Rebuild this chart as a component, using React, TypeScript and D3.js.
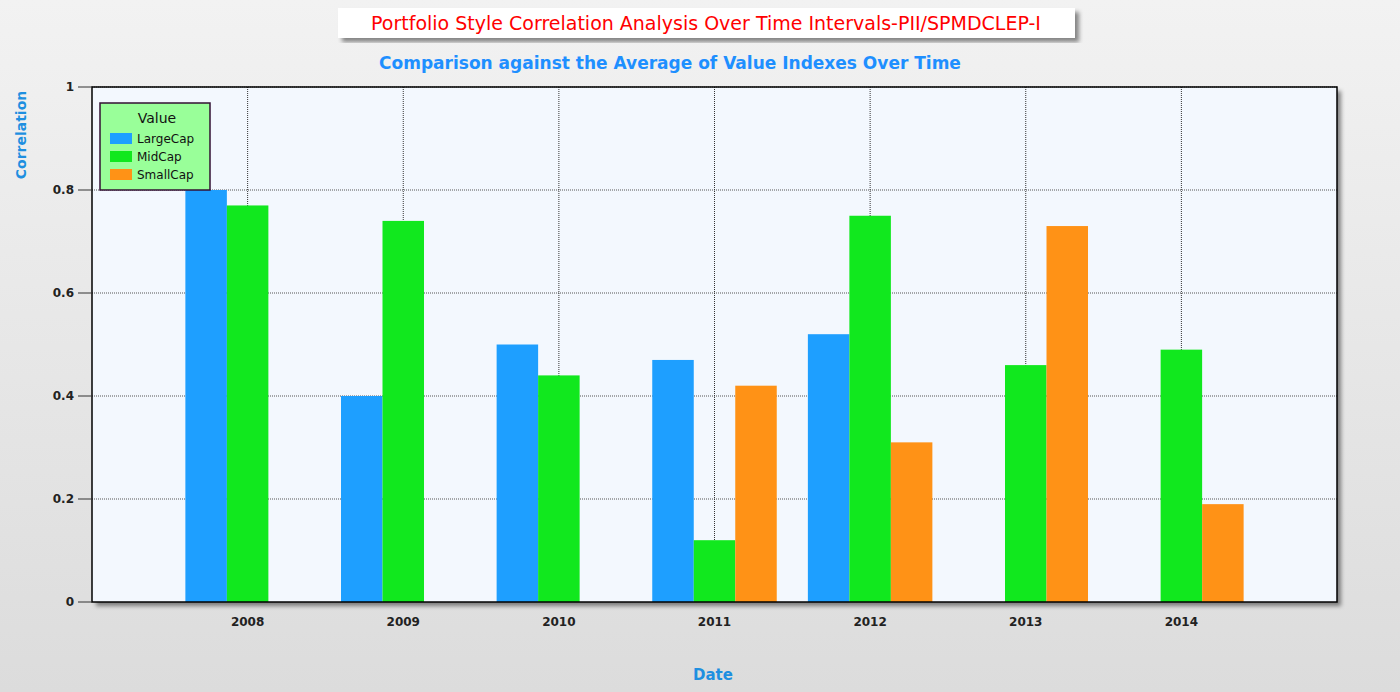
import { useRef, useEffect } from 'react';
import * as d3 from 'd3';

const years = ['2008', '2009', '2010', '2011', '2012', '2013', '2014'];
const seriesNames = ['LargeCap', 'MidCap', 'SmallCap'];
const seriesColors = ['#1e9fff', '#11e81e', '#ff9216'];
const largeCap = [0.8, 0.4, 0.5, 0.47, 0.52, 0, 0];
const midCap = [0.77, 0.74, 0.44, 0.12, 0.75, 0.46, 0.49];
const smallCap = [0, 0, 0, 0.42, 0.31, 0.73, 0.19];
const yTicks = [0, 0.2, 0.4, 0.6, 0.8, 1];

const W = 1400;
const H = 692;
const margin = { top: 87, right: 63, bottom: 90, left: 92 };
const font = '"DejaVu Sans", Verdana, sans-serif';

export default function App() {
  const svgRef = useRef<SVGSVGElement>(null);

  useEffect(() => {
    if (!svgRef.current) return;
    const svg = d3.select(svgRef.current);
    svg.selectAll('*').remove();

    const innerW = W - margin.left - margin.right;
    const innerH = H - margin.top - margin.bottom;

    const defs = svg.append('defs');
    const bg = defs.append('linearGradient').attr('id', 'bg').attr('x1', 0).attr('y1', 0).attr('x2', 0).attr('y2', 1);
    bg.append('stop').attr('offset', '0%').attr('stop-color', '#f2f2f2');
    bg.append('stop').attr('offset', '100%').attr('stop-color', '#dcdcdc');
    const sh = defs.append('filter').attr('id', 'shadow').attr('x', '-5%').attr('y', '-5%').attr('width', '110%').attr('height', '120%');
    sh.append('feDropShadow').attr('dx', 4).attr('dy', 4).attr('stdDeviation', 2).attr('flood-color', '#000').attr('flood-opacity', 0.45);

    svg.append('rect').attr('width', W).attr('height', H).attr('fill', 'url(#bg)');

    // Title
    svg.append('rect').attr('x', 338).attr('y', 8).attr('width', 737).attr('height', 30)
      .attr('fill', '#fff').attr('filter', 'url(#shadow)');
    svg.append('text').attr('x', 706).attr('y', 30).attr('text-anchor', 'middle')
      .attr('font-family', font).attr('font-size', 19).attr('fill', '#ff0000')
      .text('Portfolio Style Correlation Analysis Over Time Intervals-PII/SPMDCLEP-I');
    svg.append('text').attr('x', 670).attr('y', 69).attr('text-anchor', 'middle')
      .attr('font-family', font).attr('font-size', 17).attr('font-weight', 'bold').attr('fill', '#1e8fff')
      .text('Comparison against the Average of Value Indexes Over Time');

    const x = d3.scalePoint<string>().domain(years).range([0, innerW]).padding(1);
    const y = d3.scaleLinear().domain([0, 1]).range([innerH, 0]);
    const bw = 41.5;

    const g = svg.append('g').attr('transform', `translate(${margin.left},${margin.top})`);
    g.append('rect').attr('width', innerW).attr('height', innerH).attr('fill', '#f3f8fe')
      .attr('filter', 'url(#shadow)');

    // grid
    g.selectAll('.hg').data(yTicks.slice(1)).join('line')
      .attr('x1', 0).attr('x2', innerW).attr('y1', (d) => y(d)).attr('y2', (d) => y(d))
      .attr('stroke', '#555').attr('stroke-dasharray', '1,1');
    g.selectAll('.vg').data(years).join('line')
      .attr('x1', (d) => x(d)!).attr('x2', (d) => x(d)!).attr('y1', 0).attr('y2', innerH)
      .attr('stroke', '#333').attr('stroke-dasharray', '1,1');

    const series = [largeCap, midCap, smallCap];
    series.forEach((vals, si) => {
      g.selectAll(`.b${si}`).data(vals).join('rect')
        .attr('x', (_, i) => x(years[i])! + (si - 1.5) * bw)
        .attr('width', bw)
        .attr('y', (d) => y(d))
        .attr('height', (d) => innerH - y(d))
        .attr('fill', seriesColors[si]);
    });

    g.append('rect').attr('width', innerW).attr('height', innerH).attr('fill', 'none')
      .attr('stroke', '#000').attr('stroke-width', 1.5);

    // y axis
    g.selectAll('.yt').data(yTicks).join('line')
      .attr('x1', -14).attr('x2', 0).attr('y1', (d) => y(d)).attr('y2', (d) => y(d)).attr('stroke', '#333');
    g.selectAll('.yl').data(yTicks).join('text')
      .attr('x', -18).attr('y', (d) => y(d) + 4).attr('text-anchor', 'end')
      .attr('font-family', font).attr('font-size', 12).attr('font-weight', 'bold').attr('fill', '#222')
      .text((d) => (d === 0 || d === 1 ? String(d) : d.toFixed(1)));
    g.selectAll('.xl').data(years).join('text')
      .attr('x', (d) => x(d)!).attr('y', innerH + 24).attr('text-anchor', 'middle')
      .attr('font-family', font).attr('font-size', 12).attr('font-weight', 'bold').attr('fill', '#222')
      .text((d) => d);

    svg.append('text').attr('transform', 'translate(26,135) rotate(-90)').attr('text-anchor', 'middle')
      .attr('font-family', font).attr('font-size', 14).attr('font-weight', 'bold').attr('fill', '#1e8fe0')
      .text('Correlation');
    svg.append('text').attr('x', 713).attr('y', 680).attr('text-anchor', 'middle')
      .attr('font-family', font).attr('font-size', 15).attr('font-weight', 'bold').attr('fill', '#1e8fe0')
      .text('Date');

    // legend
    const lg = svg.append('g').attr('transform', 'translate(100,103)');
    lg.append('rect').attr('width', 110).attr('height', 87).attr('fill', '#99ff99')
      .attr('stroke', '#331133').attr('stroke-width', 1.5);
    lg.append('text').attr('x', 57).attr('y', 20).attr('text-anchor', 'middle')
      .attr('font-family', font).attr('font-size', 14).attr('fill', '#111').text('Value');
    seriesNames.forEach((n, i) => {
      lg.append('rect').attr('x', 10).attr('y', 30 + i * 18).attr('width', 22).attr('height', 11).attr('fill', seriesColors[i]);
      lg.append('text').attr('x', 37).attr('y', 40 + i * 18).attr('font-family', font).attr('font-size', 12)
        .attr('fill', '#111').text(n);
    });
  }, []);

  return <svg ref={svgRef} width={W} height={H} style={{ position: 'absolute', left: 0, top: 0 }} />;
}
